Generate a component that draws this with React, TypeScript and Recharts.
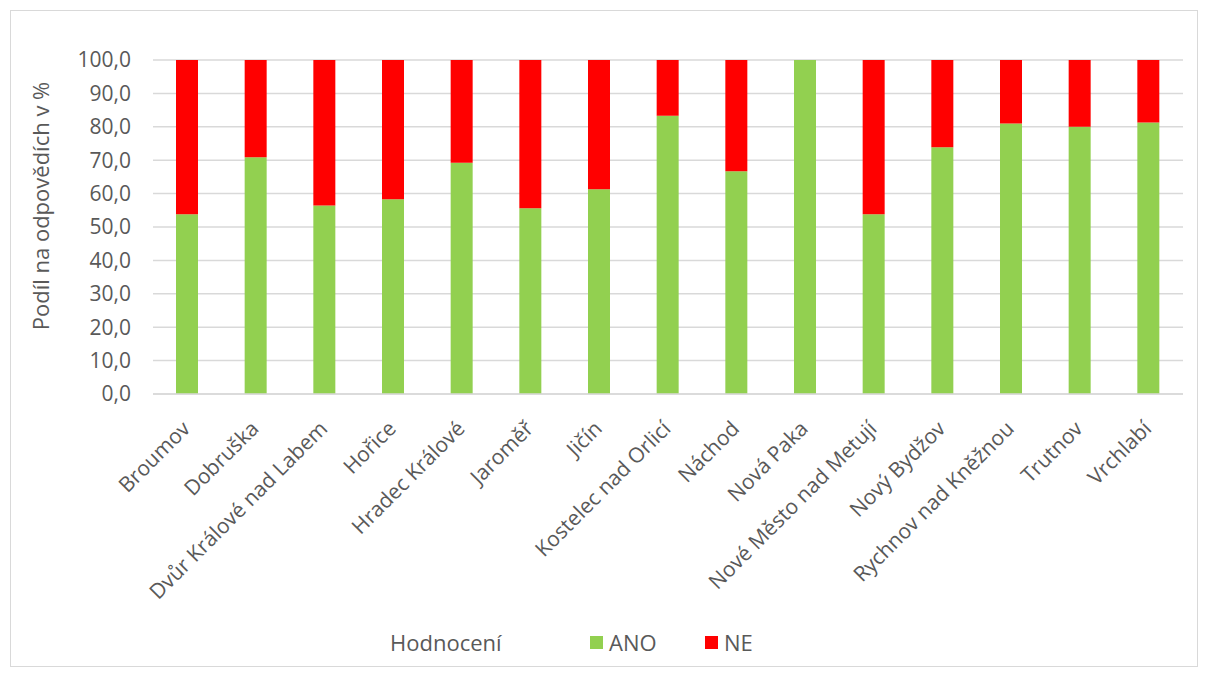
import { BarChart, Bar, CartesianGrid, XAxis, YAxis, Legend, Label } from 'recharts'

const cities = [
  'Broumov',
  'Dobruška',
  'Dvůr Králové nad Labem',
  'Hořice',
  'Hradec Králové',
  'Jaroměř',
  'Jičín',
  'Kostelec nad Orlicí',
  'Náchod',
  'Nová Paka',
  'Nové Město nad Metují',
  'Nový Bydžov',
  'Rychnov nad Kněžnou',
  'Trutnov',
  'Vrchlabí',
]

const ano = [53.8, 70.9, 56.4, 58.3, 69.2, 55.6, 61.3, 83.3, 66.7, 100, 53.8, 73.9, 81.0, 80.0, 81.3]

const yTicks = [0, 10, 20, 30, 40, 50, 60, 70, 80, 90, 100]

const data = cities.map((city, i) => ({
  city,
  ANO: ano[i],
  NE: +(100 - ano[i]).toFixed(1),
}))

const FONT = '"Open Sans", sans-serif'
const TEXT = '#595959'

const CityTick = (props: any) => {
  const { x, y, payload } = props
  const ax = x + 4
  const ay = y + 28
  return (
    <text
      x={ax}
      y={ay}
      transform={`rotate(-45, ${ax}, ${ay})`}
      textAnchor="end"
      fill={TEXT}
      fontSize={21}
      fontFamily={FONT}
    >
      {payload.value}
    </text>
  )
}

const YTitle = () => (
  <text
    x={29}
    y={195}
    transform="rotate(-90, 29, 195)"
    textAnchor="middle"
    dominantBaseline="central"
    fill={TEXT}
    fontSize={22}
    fontFamily={FONT}
  >
    Podíl na odpovědích v %
  </text>
)

const LegendBox = (props: any) => {
  const { payload } = props
  return (
    <div style={{ display: 'flex', alignItems: 'center', fontFamily: FONT, color: TEXT, fontSize: 22 }}>
      <span style={{ marginLeft: 379, width: 200 }}>Hodnocení</span>
      {(payload || []).map((p: any) => (
        <span key={p.value} style={{ display: 'flex', alignItems: 'center', width: 115 }}>
          <span style={{ width: 13, height: 13, background: p.color, marginRight: 6 }} />
          {p.value}
        </span>
      ))}
    </div>
  )
}

export default function App() {
  return (
    <div
      style={{
        marginLeft: 2,
        marginTop: 2,
        width: 1186,
        height: 655,
        border: '1px solid #d9d9d9',
        background: '#fff',
      }}
    >
      <BarChart width={1186} height={655} data={data} margin={{ top: 49, right: 14, bottom: 0, left: 0 }}>
        <CartesianGrid vertical={false} stroke="#d9d9d9" strokeWidth={1.5} />
        <XAxis
          dataKey="city"
          interval={0}
          height={242}
          tick={<CityTick />}
          tickLine={false}
          axisLine={{ stroke: '#d9d9d9', strokeWidth: 1.5 }}
        />
        <YAxis
          width={142}
          domain={[0, 100]}
          ticks={yTicks}
          tickFormatter={(v: number) => v.toFixed(1).replace('.', ',')}
          axisLine={false}
          tickLine={false}
          tickSize={0}
          tickMargin={22}
          tick={{ fill: TEXT, fontSize: 21, fontFamily: FONT }}
        >
          <Label content={<YTitle />} />
        </YAxis>
        <Legend
          content={<LegendBox />}
          wrapperStyle={{ position: 'absolute', left: 0, top: 616, width: 1186 }}
        />
        <Bar dataKey="ANO" stackId="a" fill="#92d050" barSize={22} isAnimationActive={false} />
        <Bar dataKey="NE" stackId="a" fill="#ff0000" barSize={22} isAnimationActive={false} />
      </BarChart>
    </div>
  )
}
